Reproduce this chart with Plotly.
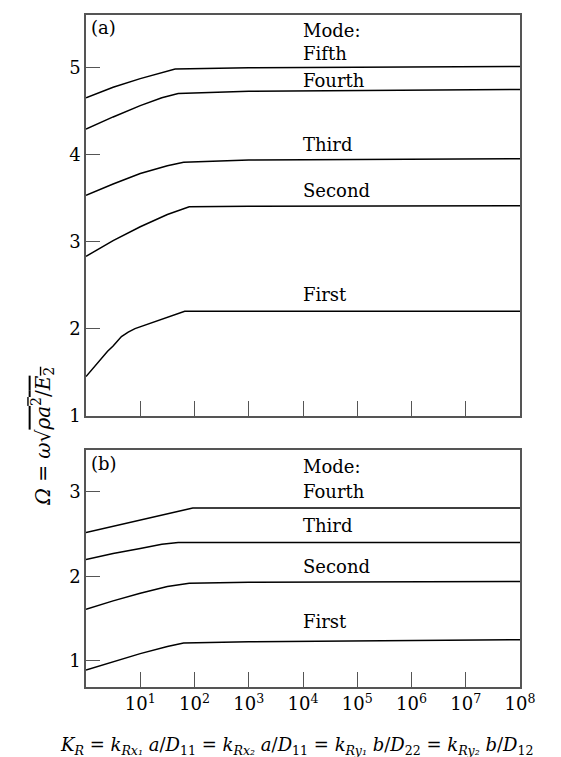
import plotly.graph_objects as go

# ---- data (x = K_R, log scale) ----
# Panel (a)
a_first_x = [1, 1.41, 1.9, 2.5, 3.16, 4.5, 6.0, 8.0, 66, 1e3, 1e8]
a_first_y = [1.45, 1.56, 1.65, 1.74, 1.80, 1.91, 1.96, 2.0, 2.2, 2.2, 2.2]
a_second_x = [1, 3.16, 10, 31.6, 80, 1e3, 1e8]
a_second_y = [2.83, 3.01, 3.17, 3.31, 3.40, 3.405, 3.41]
a_third_x = [1, 3.16, 10, 31.6, 63, 1e3, 1e8]
a_third_y = [3.53, 3.66, 3.78, 3.87, 3.91, 3.935, 3.95]
a_fourth_x = [1, 3.16, 10, 25, 50, 1e3, 1e8]
a_fourth_y = [4.29, 4.43, 4.56, 4.65, 4.70, 4.725, 4.745]
a_fifth_x = [1, 3.16, 10, 25, 44, 1e3, 1e8]
a_fifth_y = [4.65, 4.77, 4.87, 4.94, 4.98, 4.995, 5.01]

# Panel (b)
b_first_x = [1, 3.16, 10, 31.6, 63, 1e3, 1e8]
b_first_y = [0.89, 0.99, 1.085, 1.17, 1.21, 1.225, 1.25]
b_second_x = [1, 3.16, 10, 31.6, 80, 1e3, 1e8]
b_second_y = [1.61, 1.71, 1.80, 1.88, 1.92, 1.93, 1.94]
b_third_x = [1, 3.16, 10, 25, 50, 1e8]
b_third_y = [2.20, 2.27, 2.33, 2.38, 2.40, 2.40]
b_fourth_x = [1, 10, 93, 1e8]
b_fourth_y = [2.52, 2.67, 2.81, 2.81]

tick_exps = [1, 2, 3, 4, 5, 6, 7, 8]
tick_text = ["10<sup>%d</sup>" % e for e in tick_exps]

a_labels = ["Mode:", "Fifth", "Fourth", "Third", "Second", "First"]
a_label_y = [5.42, 5.16, 4.85, 4.11, 3.59, 2.39]
b_labels = ["Mode:", "Fourth", "Third", "Second", "First"]
b_label_y = [3.30, 3.01, 2.60, 2.12, 1.47]
label_x_exp = 3.96

FONT = "DejaVu Serif"
FRAME = "#555555"
FS = 18

fig = go.Figure()
line = dict(color="black", width=1.5)
for xs, ys in [(a_first_x, a_first_y), (a_second_x, a_second_y), (a_third_x, a_third_y),
               (a_fourth_x, a_fourth_y), (a_fifth_x, a_fifth_y)]:
    fig.add_trace(go.Scatter(x=xs, y=ys, mode="lines", line=line, xaxis="x", yaxis="y",
                             showlegend=False, hoverinfo="skip"))
for xs, ys in [(b_first_x, b_first_y), (b_second_x, b_second_y), (b_third_x, b_third_y),
               (b_fourth_x, b_fourth_y)]:
    fig.add_trace(go.Scatter(x=xs, y=ys, mode="lines", line=line, xaxis="x2", yaxis="y2",
                             showlegend=False, hoverinfo="skip"))

common_x = dict(type="log", range=[0, 8], showgrid=False, zeroline=False,
                showline=True, linecolor=FRAME, linewidth=1.5, mirror=True,
                ticks="inside", ticklen=15, tickcolor=FRAME, tickwidth=1.2,
                tickvals=[10 ** e for e in tick_exps])
common_y = dict(showgrid=False, zeroline=False, showline=True, linecolor=FRAME,
                linewidth=1.5, mirror=True, ticks="inside", ticklen=14,
                tickcolor=FRAME, tickwidth=1.2, tickfont=dict(family=FONT, size=FS, color="black"))

fig.update_layout(
    width=561, height=757,
    margin=dict(l=78, r=49, t=5, b=78),
    paper_bgcolor="white", plot_bgcolor="white",
    font=dict(family=FONT, size=FS, color="black"),
    xaxis=dict(common_x, domain=[0, 1], anchor="y", showticklabels=False),
    yaxis=dict(common_y, domain=[0.4036, 1], anchor="x", range=[1, 5.6],
               tickvals=[1, 2, 3, 4, 5]),
    xaxis2=dict(common_x, domain=[0, 1], anchor="y2", ticktext=tick_text,
                tickfont=dict(family=FONT, size=FS, color="black")),
    yaxis2=dict(common_y, domain=[0, 0.3531], anchor="x2", range=[0.69, 3.5],
                tickvals=[1, 2, 3]),
)

plot_w = 561 - 78 - 49
plot_h = 757 - 5 - 78

ann = []
for t, y in zip(a_labels, a_label_y):
    ann.append(dict(x=label_x_exp, y=y, xref="x", yref="y", text=t, showarrow=False,
                    xanchor="left", yanchor="middle", font=dict(family=FONT, size=FS)))
for t, y in zip(b_labels, b_label_y):
    ann.append(dict(x=label_x_exp, y=y, xref="x2", yref="y2", text=t, showarrow=False,
                    xanchor="left", yanchor="middle", font=dict(family=FONT, size=FS)))
ann.append(dict(x=0.006, y=1.0, xref="paper", yref="paper", text="(a)", showarrow=False,
                xanchor="left", yanchor="top", font=dict(family=FONT, size=FS)))
ann.append(dict(x=0.006, y=0.3531 - 0.002, xref="paper", yref="paper", text="(b)", showarrow=False,
                xanchor="left", yanchor="top", font=dict(family=FONT, size=FS)))
ann.append(dict(x=(35 - 78) / plot_w, y=(757 - 78 - 428) / plot_h, xref="paper", yref="paper",
                text="<i>Ω</i> = <i>ω</i>√<span style='text-decoration:overline'><i>ρa</i><sup>2</sup>/<i>E</i><sub>2</sub></span>",
                showarrow=False, textangle=-90, xanchor="center", yanchor="middle",
                font=dict(family=FONT, size=20)))
ann.append(dict(x=(289 - 78) / plot_w, y=(757 - 78 - 738) / plot_h, xref="paper", yref="paper",
                text="<i>K<sub>R</sub></i> = <i>k<sub>Rx₁</sub> a</i>/<i>D</i><sub>11</sub> = "
                     "<i>k<sub>Rx₂</sub> a</i>/<i>D</i><sub>11</sub> = "
                     "<i>k<sub>Ry₁</sub> b</i>/<i>D</i><sub>22</sub> = "
                     "<i>k<sub>Ry₂</sub> b</i>/<i>D</i><sub>12</sub>",
                showarrow=False, xanchor="center", yanchor="middle",
                font=dict(family=FONT, size=18)))
fig.update_layout(annotations=ann)

fig.write_html("out.html")
